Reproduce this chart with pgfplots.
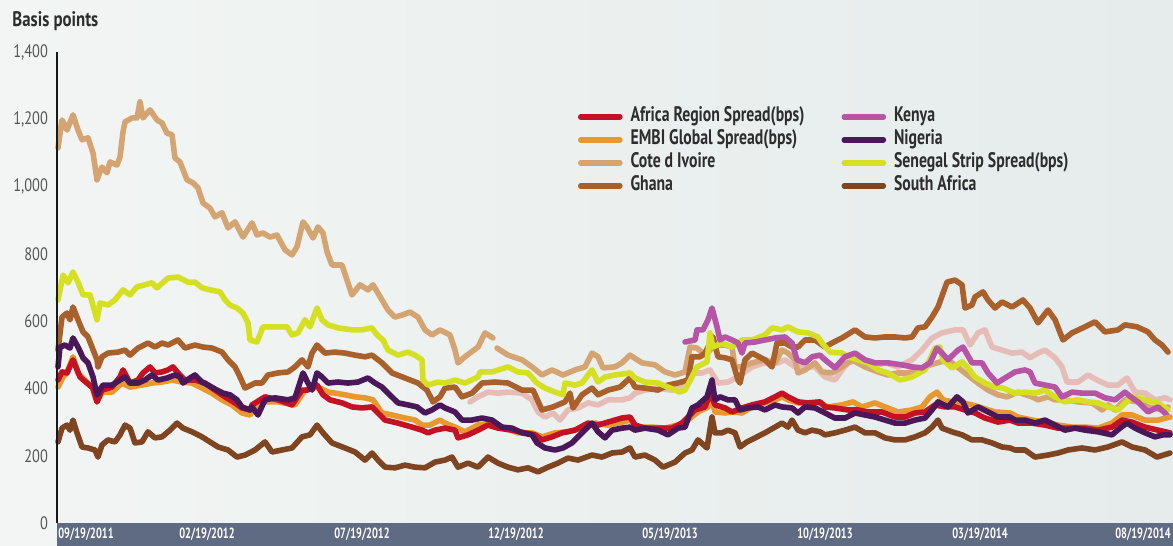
\documentclass[border=0pt]{standalone}
\usepackage{pgfplots}
\pgfplotsset{compat=1.18}
\usepackage{fontspec}
\newfontfamily\cond[FakeStretch=0.8]{PT Sans}
\newfontfamily\condx[FakeStretch=0.7]{PT Sans}
\newfontfamily\condl[FakeStretch=0.75]{PT Sans}
\definecolor{bgL}{RGB}{242,245,244}
\definecolor{bgR}{RGB}{229,236,235}
\definecolor{band}{RGB}{95,107,130}
\definecolor{cAfr}{RGB}{196,18,36}
\definecolor{cEmbi}{RGB}{232,152,46}
\definecolor{cCote}{RGB}{212,165,115}
\definecolor{cGhana}{RGB}{169,96,42}
\definecolor{cKenya}{RGB}{184,84,166}
\definecolor{cNig}{RGB}{74,24,88}
\definecolor{cSen}{RGB}{212,224,33}
\definecolor{cSA}{RGB}{127,68,32}
\definecolor{cPink}{RGB}{230,188,182}
\definecolor{txt}{RGB}{45,45,45}
\definecolor{tick}{RGB}{85,85,85}
\begin{document}
\begin{tikzpicture}
\useasboundingbox (0,0) rectangle (586.5pt,273pt);
\shade[left color=bgL, right color=bgR] (0,0) rectangle (586.5pt,273pt);
\fill[band] (28.5pt,0) rectangle (586.5pt,11.5pt);
\node[anchor=west, inner sep=0pt, text=txt, font=\cond\bfseries\fontsize{10.5}{12}\selectfont] at (6pt,262.5pt) {Basis points};
\begin{axis}[
  at={(28.5pt,11.5pt)}, anchor=south west,
  scale only axis, width=558pt, height=235.5pt,
  xmin=6, xmax=1122, ymin=0, ymax=1400,
  axis line style={draw=none},
  major tick length=0pt,
  clip=false,
  unbounded coords=jump,
  xtick={35,156,311,465,619,774,929,1092},
  xticklabels={09/19/2011,02/19/2012,07/19/2012,12/19/2012,05/19/2013,10/19/2013,03/19/2014,08/19/2014},
  xticklabel style={anchor=center, yshift=-5.6pt, text=white, font=\condx\bfseries\fontsize{7.4}{8}\selectfont},
  ytick={0,200,400,600,800,1000,1200,1400},
  yticklabels={0,200,400,600,800,{1,000},{1,200},{1,400}},
  yticklabel style={text=tick, xshift=-1pt, font=\cond\fontsize{9}{10}\selectfont},
  every axis plot/.append style={line width=2.8pt, line join=round, line cap=round},
  legend columns=2,
  legend cell align=left,
  legend image code/.code={\draw[#1, line width=2.6pt, line cap=round] (1.3pt,0pt) -- (21pt,0pt);},
  legend style={draw=none, fill=none, at={(0.4665,0.887)}, anchor=north west,
    inner sep=0pt, row sep=0.2pt, text=txt,
    font=\condl\bfseries\fontsize{10.5}{11}\selectfont,
    nodes={inner sep=1.5pt, text height=6.4pt, text depth=1.9pt},
    /tikz/every odd column/.append style={column sep=2.5pt},
    /tikz/every even column/.append style={column sep=17pt}},
]
% light pink (unlabelled)
\addplot[cPink, forget plot] coordinates {(419,360) (427,375) (437,389) (447,386) (457,389) (471,386) (481,366) (487,330) (494,315) (502,327) (509,306) (517,336) (527,342) (537,357) (547,351) (557,366) (571,366) (579,372) (584,386) (594,395) (607,401) (621,395) (631,401) (641,446) (651,446) (659,455) (667,416) (677,419) (687,434) (701,464) (714,476) (727,476) (734,485) (744,464) (764,464) (774,434) (784,425) (791,455) (797,476) (807,485) (821,464) (834,476) (847,464) (861,485) (871,514) (881,550) (891,565) (904,574) (912,574) (919,529) (927,565) (934,574) (941,523) (951,514) (961,505) (971,508) (979,491) (987,505) (994,514) (1004,491) (1011,464) (1016,419) (1027,419) (1037,440) (1046,425) (1057,410) (1067,410) (1076,431) (1084,389) (1094,386) (1104,366) (1114,372) (1119,366)};
% Cote d Ivoire
\addplot[cCote, forget plot] coordinates {(7,1115) (11,1198) (16,1168) (22,1213) (27,1168) (31,1139) (37,1145) (42,1100) (46,1020) (51,1058) (56,1041) (59,1073) (66,1064) (69,1088) (72,1162) (74,1192) (81,1204) (86,1204) (89,1252) (92,1204) (99,1228) (106,1198) (111,1189) (116,1159) (121,1154) (124,1085) (129,1073) (136,1020) (142,1011) (147,996) (152,951) (159,936) (164,910) (171,922) (177,877) (184,895) (192,850) (201,892) (206,856) (212,862) (219,850) (226,856) (234,812) (241,797) (246,821) (252,895) (256,880) (262,847) (267,880) (272,862) (276,806) (281,767) (291,767) (296,722) (301,678) (309,708) (317,693) (322,708) (331,663) (337,633) (344,612) (351,618) (359,627) (367,612) (374,574) (381,559) (389,574) (399,559) (404,514) (407,476) (414,494) (427,523) (434,565) (442,550) (444,nan) (446,520) (457,499) (471,485) (481,464) (491,440) (501,455) (512,440) (524,455) (534,464) (541,505) (547,494) (552,461) (564,464) (571,476) (579,499) (591,476) (604,470) (614,449) (624,440) (634,449) (639,523) (646,520) (654,499) (664,529) (674,529) (681,523) (684,464) (691,464) (701,476) (714,485) (724,476) (731,514) (737,505) (744,485) (747,446) (754,455) (764,476) (771,449) (781,446) (791,464) (801,485) (814,464) (827,449) (837,440) (847,446) (857,446) (867,455) (879,470) (897,485) (914,446) (927,416) (937,395) (947,381) (956,375) (967,389) (981,375) (987,366) (997,375) (1004,366) (1014,366) (1027,360) (1041,357) (1051,336) (1057,351) (1064,336) (1074,366) (1087,360) (1097,345) (1111,336) (1117,345)};
% Ghana
\addplot[cGhana, forget plot] coordinates {(7,514) (11,612) (16,624) (19,604) (22,642) (27,604) (32,568) (37,553) (41,523) (46,485) (47,464) (51,494) (57,505) (67,508) (74,514) (79,499) (87,520) (97,535) (104,523) (111,535) (117,529) (127,544) (134,520) (144,529) (152,523) (161,520) (171,508) (177,485) (184,464) (189,434) (194,401) (204,416) (211,416) (217,440) (227,446) (237,449) (244,464) (251,485) (257,464) (261,505) (266,529) (274,505) (284,508) (294,505) (304,499) (314,494) (321,499) (331,476) (341,446) (354,431) (367,416) (376,395) (382,360) (389,375) (394,401) (404,404) (411,375) (421,386) (431,416) (444,419) (457,416) (471,395) (482,395) (491,336) (502,345) (514,360) (519,386) (522,342) (531,381) (541,401) (547,381) (557,395) (569,404) (579,431) (584,404) (594,401) (607,395) (617,410) (627,416) (637,425) (641,494) (649,494) (654,505) (662,553) (667,494) (674,491) (681,485) (687,425) (689,416) (694,485) (701,505) (714,485) (721,464) (726,535) (734,535) (741,523) (747,523) (754,544) (764,544) (774,523) (781,535) (791,550) (804,574) (814,553) (824,550) (834,553) (844,553) (854,550) (861,553) (867,580) (874,583) (881,612) (887,642) (896,716) (904,722) (911,708) (914,639) (921,648) (924,672) (932,687) (937,663) (944,639) (951,657) (961,642) (972,663) (979,639) (987,595) (997,633) (1004,604) (1012,544) (1021,565) (1034,583) (1044,598) (1054,568) (1067,574) (1074,589) (1086,583) (1097,568) (1104,544) (1111,529) (1117,508)};
% Senegal
\addplot[cSen, forget plot] coordinates {(7,663) (12,737) (17,714) (22,746) (27,716) (32,678) (39,678) (46,604) (49,654) (57,648) (64,663) (72,693) (79,678) (86,702) (94,708) (101,714) (106,699) (117,728) (127,731) (137,716) (144,716) (151,699) (159,693) (169,687) (174,663) (179,648) (186,639) (192,624) (197,595) (199,544) (206,538) (212,583) (224,583) (236,583) (241,559) (247,565) (254,604) (259,583) (266,639) (271,604) (277,589) (287,580) (301,574) (311,574) (321,580) (326,559) (332,544) (337,514) (347,499) (357,508) (364,499) (371,485) (372,425) (377,410) (387,419) (394,416) (404,425) (414,416) (427,434) (429,449) (441,449) (457,464) (467,449) (477,446) (486,416) (494,401) (504,389) (512,381) (514,416) (524,410) (531,416) (541,455) (547,419) (554,434) (564,440) (579,446) (584,431) (594,419) (607,416) (617,404) (629,389) (634,395) (641,434) (646,464) (656,479) (659,565) (662,523) (671,535) (681,523) (691,544) (701,544) (714,559) (721,580) (731,574) (737,583) (747,568) (757,565) (767,553) (771,535) (779,508) (791,505) (797,494) (807,485) (817,476) (827,455) (837,446) (849,425) (861,434) (874,455) (884,520) (889,523) (892,485) (901,461) (911,479) (917,461) (924,434) (934,416) (944,404) (952,401) (964,386) (974,389) (984,386) (994,395) (1004,375) (1014,360) (1027,366) (1037,360) (1047,357) (1057,345) (1067,336) (1081,375) (1094,366) (1107,357) (1117,336)};
% Kenya
\addplot[cKenya, forget plot] coordinates {(634,538) (644,544) (646,574) (652,574) (657,604) (661,639) (666,583) (669,544) (674,553) (681,544) (687,535) (691,505) (694,535) (704,538) (714,544) (724,550) (734,553) (741,535) (746,485) (754,476) (761,494) (769,499) (774,485) (784,461) (794,494) (804,505) (814,485) (824,476) (837,476) (851,470) (861,464) (871,461) (879,476) (886,520) (891,505) (897,485) (907,514) (912,523) (921,476) (931,476) (937,446) (946,416) (954,431) (964,449) (974,455) (979,449) (984,416) (994,410) (1004,404) (1011,375) (1021,389) (1031,386) (1044,386) (1054,372) (1064,366) (1074,389) (1081,372) (1087,360) (1097,330) (1107,345) (1114,327) (1117,315)};
% South Africa
\addplot[cSA, forget plot] coordinates {(7,241) (11,282) (16,291) (19,276) (22,306) (26,268) (31,226) (37,223) (44,217) (47,196) (51,232) (57,247) (64,241) (69,262) (74,291) (79,282) (84,238) (91,241) (97,271) (104,253) (111,256) (119,276) (126,297) (132,282) (141,271) (151,256) (159,241) (167,226) (177,217) (186,196) (194,202) (204,217) (214,241) (221,211) (231,217) (241,223) (251,256) (259,262) (266,291) (272,268) (281,238) (294,223) (304,211) (314,187) (321,208) (327,187) (334,166) (344,164) (354,172) (364,166) (374,164) (384,181) (394,187) (401,196) (407,166) (417,178) (427,166) (437,196) (447,178) (457,166) (467,158) (477,164) (487,152) (497,166) (507,178) (517,193) (527,187) (541,202) (551,196) (561,208) (571,211) (579,223) (584,196) (594,202) (604,187) (612,166) (624,181) (634,208) (641,217) (647,247) (656,223) (661,315) (664,268) (671,268) (677,276) (684,268) (689,226) (696,241) (704,253) (714,268) (724,285) (731,297) (737,285) (741,306) (747,276) (754,268) (761,276) (769,271) (774,262) (784,268) (794,276) (804,285) (814,268) (824,268) (834,253) (844,247) (854,247) (864,256) (874,268) (881,285) (887,306) (891,282) (901,271) (911,262) (921,247) (931,247) (941,238) (951,226) (959,223) (964,217) (974,217) (984,196) (997,202) (1007,208) (1017,217) (1031,223) (1044,217) (1057,226) (1071,241) (1081,226) (1094,217) (1106,196) (1119,208)};
% EMBI
\addplot[cEmbi, forget plot] coordinates {(7,404) (12,434) (16,446) (22,494) (27,446) (34,425) (41,404) (46,360) (51,389) (61,389) (71,416) (79,404) (91,410) (101,416) (111,419) (121,425) (131,419) (141,416) (151,401) (161,386) (171,366) (181,351) (191,327) (199,321) (204,345) (214,360) (227,360) (244,351) (254,395) (267,404) (277,389) (284,386) (294,381) (304,375) (314,372) (322,366) (331,327) (341,321) (354,312) (364,306) (371,291) (379,291) (389,306) (394,297) (404,285) (414,271) (427,291) (441,297) (454,282) (467,268) (481,268) (491,256) (504,268) (517,271) (531,282) (544,297) (557,291) (571,300) (579,306) (587,285) (601,285) (614,282) (627,291) (637,306) (647,330) (657,345) (661,366) (664,330) (674,327) (681,330) (691,327) (701,345) (714,357) (724,366) (731,375) (737,366) (747,357) (757,351) (769,357) (777,345) (791,351) (802,360) (811,345) (824,357) (834,345) (847,330) (861,336) (871,345) (879,375) (886,389) (892,366) (901,360) (911,357) (921,351) (931,342) (944,330) (959,327) (967,315) (981,306) (994,300) (1007,291) (1021,285) (1034,285) (1047,282) (1061,297) (1071,321) (1081,321) (1094,306) (1107,306) (1119,315)};
% Africa Region
\addplot[cAfr, forget plot] coordinates {(7,425) (11,449) (16,446) (22,485) (29,434) (36,416) (42,401) (46,360) (51,395) (61,404) (69,434) (72,455) (79,416) (87,425) (92,446) (99,464) (104,446) (111,449) (117,455) (122,464) (127,446) (134,425) (144,425) (154,416) (164,395) (174,375) (184,357) (191,342) (199,336) (201,351) (214,375) (227,366) (241,351) (251,395) (256,395) (261,401) (266,410) (272,381) (279,366) (291,357) (301,345) (311,342) (321,345) (327,327) (334,306) (347,297) (361,285) (371,276) (377,268) (384,276) (394,282) (404,276) (407,253) (417,262) (427,276) (437,291) (447,282) (461,276) (474,268) (484,262) (491,247) (501,256) (511,268) (524,276) (537,297) (547,291) (557,300) (571,312) (579,315) (584,291) (594,282) (607,282) (621,282) (631,297) (637,315) (644,336) (654,345) (659,386) (664,351) (674,342) (681,330) (691,342) (701,351) (714,360) (724,375) (731,386) (737,375) (747,360) (757,357) (769,360) (774,345) (784,342) (797,336) (807,336) (817,330) (831,330) (844,315) (854,315) (864,327) (874,330) (884,351) (894,345) (904,345) (914,336) (924,327) (934,312) (947,300) (959,306) (967,297) (981,297) (994,291) (1007,282) (1021,282) (1034,282) (1047,276) (1061,285) (1071,306) (1081,300) (1094,285) (1107,276) (1119,268)};
% Nigeria
\addplot[cNig, forget plot] coordinates {(7,464) (9,523) (14,529) (19,520) (22,550) (27,523) (32,491) (37,476) (42,434) (46,381) (52,410) (61,410) (69,425) (74,434) (79,416) (87,416) (94,425) (101,440) (107,425) (116,431) (124,440) (129,434) (132,416) (139,431) (144,440) (151,419) (157,410) (166,395) (172,386) (179,381) (186,366) (191,345) (199,336) (201,345) (207,321) (214,366) (224,372) (237,366) (244,372) (252,446) (257,416) (261,395) (266,446) (271,434) (277,416) (287,419) (297,416) (307,419) (317,431) (324,416) (331,404) (337,386) (347,357) (357,351) (366,345) (374,327) (381,336) (389,351) (394,342) (404,330) (411,306) (421,306) (431,312) (441,306) (451,285) (461,282) (471,268) (481,262) (486,238) (494,223) (504,217) (512,223) (521,238) (531,268) (541,297) (547,271) (554,253) (561,276) (571,282) (579,285) (584,276) (594,282) (607,276) (617,262) (627,282) (634,285) (641,342) (647,351) (656,375) (661,425) (664,366) (669,375) (677,366) (684,366) (689,336) (697,342) (707,345) (714,336) (724,351) (731,345) (741,342) (747,327) (754,345) (764,342) (774,327) (784,312) (794,312) (804,327) (814,321) (824,315) (834,306) (844,297) (854,297) (864,306) (874,312) (881,336) (887,360) (897,345) (906,375) (912,360) (917,327) (927,345) (937,330) (947,315) (959,315) (964,306) (974,306) (984,297) (994,306) (1004,291) (1014,276) (1024,282) (1034,276) (1047,271) (1061,262) (1069,282) (1076,297) (1084,282) (1094,268) (1104,256) (1112,262) (1119,262)};
\draw[line width=1pt, black!90] (rel axis cs:0,0) -- (rel axis cs:0,1);
\addlegendimage{cAfr}\addlegendentry{Africa Region Spread(bps)}
\addlegendimage{cKenya}\addlegendentry{Kenya}
\addlegendimage{cEmbi}\addlegendentry{EMBI Global Spread(bps)}
\addlegendimage{cNig}\addlegendentry{Nigeria}
\addlegendimage{cCote}\addlegendentry{Cote d Ivoire}
\addlegendimage{cSen}\addlegendentry{Senegal Strip Spread(bps)}
\addlegendimage{cGhana}\addlegendentry{Ghana}
\addlegendimage{cSA}\addlegendentry{South Africa}
\end{axis}
\end{tikzpicture}
\end{document}
